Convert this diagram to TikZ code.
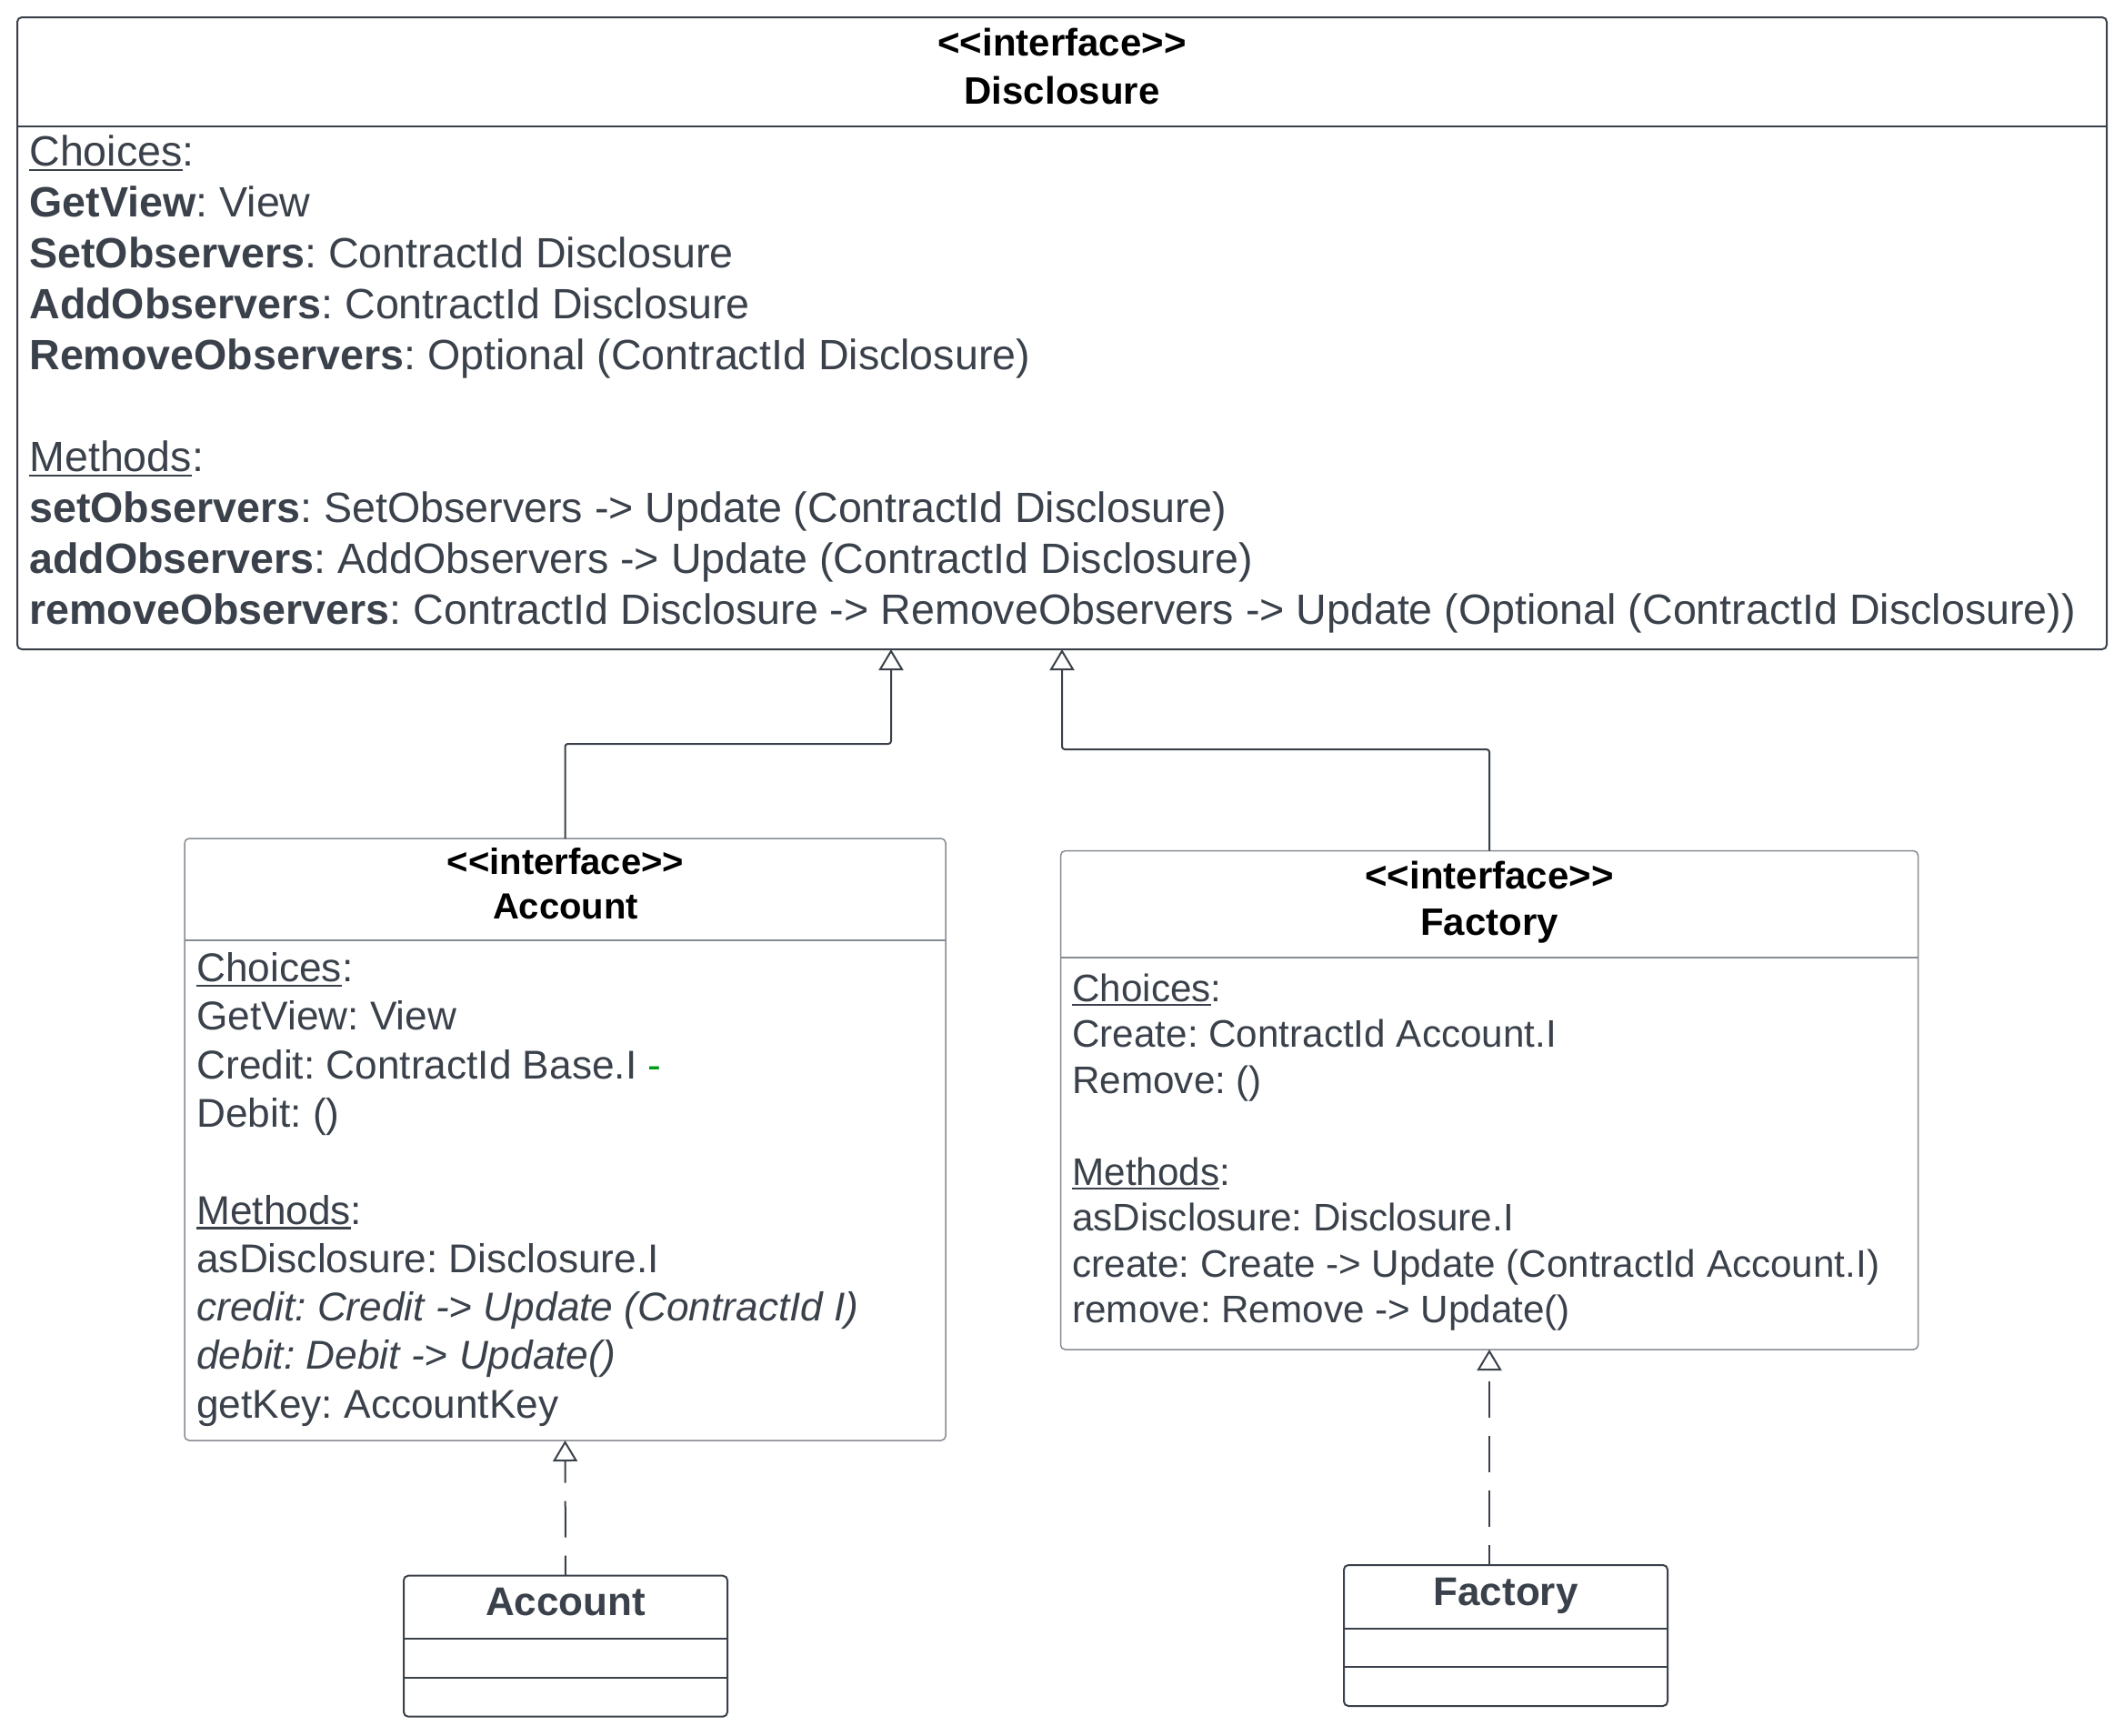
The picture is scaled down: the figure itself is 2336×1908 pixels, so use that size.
\documentclass[tikz,border=0pt]{standalone}
\usepackage{fontspec}
\setmainfont{Liberation Sans}[Ligatures=TeXOff]
\usetikzlibrary{arrows.meta,calc}
\definecolor{ink}{HTML}{3A414A}
\definecolor{frame}{HTML}{878C93}
\definecolor{grn}{HTML}{009A1A}
\frenchspacing
\newcommand\ulx[1]{\setbox0\hbox{#1}\rlap{\color{ink}\rule[-0.125em]{\wd0}{0.05em}}\box0}
\newcommand\fDis{\fontsize{23.3}{28}\selectfont}
\newcommand\fAcc{\fontsize{22.1}{27}\selectfont}
\newcommand\fFac{\fontsize{21.1}{25}\selectfont}
\tikzset{
  box/.style={draw=ink, line width=1pt, rounded corners=2.5pt, anchor=north west, inner sep=0pt, outer sep=0pt},
  ibox/.style={box, draw=frame, line width=0.75pt},
  ln/.style={anchor=base west, inner sep=0pt, text=ink},
  ttl/.style={anchor=base, inner sep=0pt, text=black, font=\bfseries},
  conn/.style={draw=ink, line width=1pt, rounded corners=1.5pt, -{Triangle[open,length=11.5pt,width=13.5pt,fill=white]}},
  realize/.style={conn, dash pattern=on 20pt off 10pt, dash phase=9pt}
}
\begin{document}
\begin{tikzpicture}[x=0.5pt,y=-0.5pt]
\useasboundingbox (0,0) rectangle (2336,1908);
% ---------- Disclosure interface ----------
\node[box, minimum width=1149pt, minimum height=347.5pt] (disc) at (19,19) {};
\draw[draw=ink, line width=1pt] (19,138.5) -- (2317,138.5);
\node[ttl, font=\bfseries\fontsize{21}{25}\selectfont] (dt1) at (1168,61.7) {<<interface>>};
\node[ttl, font=\bfseries\fontsize{21}{25}\selectfont] (dt2) at (1168,114) {Disclosure};
\node[ln, font=\fDis] (d0) at (32,182) {\ulx{Choices}:};
\node[ln, font=\fDis] (d1) at (32,238.1) {\textbf{GetView}: View};
\node[ln, font=\fDis] (d2) at (32,294.2) {\textbf{SetObservers}: ContractId Disclosure};
\node[ln, font=\fDis] (d3) at (32,350.3) {\textbf{AddObservers}: ContractId Disclosure};
\node[ln, font=\fDis] (d4) at (32,406.4) {\textbf{RemoveObservers}: Optional (ContractId Disclosure)};
\node[ln, font=\fDis] (d6) at (32,518.6) {\ulx{Methods}:};
\node[ln, font=\fDis] (d7) at (32,574.7) {\textbf{setObservers}: SetObservers -> Update (ContractId Disclosure)};
\node[ln, font=\fDis] (d8) at (32,630.8) {\textbf{addObservers}: AddObservers -> Update (ContractId Disclosure)};
\node[ln, font=\fDis] (d9) at (32,686.9) {\textbf{removeObservers}: ContractId Disclosure -> RemoveObservers -> Update (Optional (ContractId Disclosure))};
% ---------- Account interface ----------
\node[ibox, minimum width=418.5pt, minimum height=331pt] (accI) at (203,922) {};
\draw[draw=frame, line width=0.75pt] (203,1034) -- (1040,1034);
\node[ttl, font=\bfseries\fontsize{20}{24}\selectfont] (at1) at (622,961.5) {<<interface>>};
\node[ttl, font=\bfseries\fontsize{20}{24}\selectfont] (at2) at (622,1010.5) {Account};
\node[ln, font=\fAcc] (a0) at (216,1079.5) {\ulx{Choices}:};
\node[ln, font=\fAcc] (a1) at (216,1132.8) {GetView: View};
\node[ln, font=\fAcc] (a2) at (216,1186.1) {Credit: ContractId Base.I {\color{grn}-}};
\node[ln, font=\fAcc] (a3) at (216,1239.4) {Debit: ()};
\node[ln, font=\fAcc] (a5) at (216,1346) {\ulx{Methods}:};
\node[ln, font=\fAcc] (a6) at (216,1399.3) {asDisclosure: Disclosure.I};
\node[ln, font=\fAcc] (a7) at (216,1452.6) {\textit{credit: Credit -> Update (ContractId I)}};
\node[ln, font=\fAcc] (a8) at (216,1505.9) {\textit{debit: Debit -> Update()}};
\node[ln, font=\fAcc] (a9) at (216,1559.2) {getKey: AccountKey};
% ---------- Factory interface ----------
\node[ibox, minimum width=471.5pt, minimum height=274.2pt] (facI) at (1166.5,935.6) {};
\draw[draw=frame, line width=0.75pt] (1166.5,1053) -- (2109.5,1053);
\node[ttl, font=\bfseries\fontsize{21}{25}\selectfont] (ft1) at (1638,977.8) {<<interface>>};
\node[ttl, font=\bfseries\fontsize{21}{25}\selectfont] (ft2) at (1638,1028.7) {Factory};
\node[ln, font=\fFac] (f0) at (1179,1101) {\ulx{Choices}:};
\node[ln, font=\fFac] (f1) at (1179,1151.5) {Create: ContractId Account.I};
\node[ln, font=\fFac] (f2) at (1179,1202) {Remove: ()};
\node[ln, font=\fFac] (f4) at (1179,1303) {\ulx{Methods}:};
\node[ln, font=\fFac] (f5) at (1179,1353.5) {asDisclosure: Disclosure.I};
\node[ln, font=\fFac] (f6) at (1179,1404) {create: Create -> Update (ContractId Account.I)};
\node[ln, font=\fFac] (f7) at (1179,1454.5) {remove: Remove -> Update()};
% ---------- Account class ----------
\node[box, minimum width=178pt, minimum height=77.5pt] (accC) at (444,1732.7) {};
\draw[draw=ink, line width=1pt] (444,1802) -- (800,1802);
\draw[draw=ink, line width=1pt] (444,1845) -- (800,1845);
\node[ttl, text=ink, font=\bfseries\fontsize{22}{26}\selectfont] (act) at (622,1776.7) {Account};
% ---------- Factory class ----------
\node[box, minimum width=178pt, minimum height=77.5pt] (facC) at (1478,1721) {};
\draw[draw=ink, line width=1pt] (1478,1791) -- (1834,1791);
\draw[draw=ink, line width=1pt] (1478,1833) -- (1834,1833);
\node[ttl, text=ink, font=\bfseries\fontsize{22}{26}\selectfont] (fct) at (1656,1765) {Factory};
% ---------- connectors ----------
\coordinate (j1) at (980,818);
\coordinate (j2) at (1168,824);
\draw[conn] (accI.north) |- (j1) -- (j1 |- disc.south);
\draw[conn] (facI.north) |- (j2) -- (j2 |- disc.south);
\draw[realize] (accC.north) -- (accI.south);
\draw[realize] (facI.south |- facC.north) -- (facI.south);
\end{tikzpicture}
\end{document}
